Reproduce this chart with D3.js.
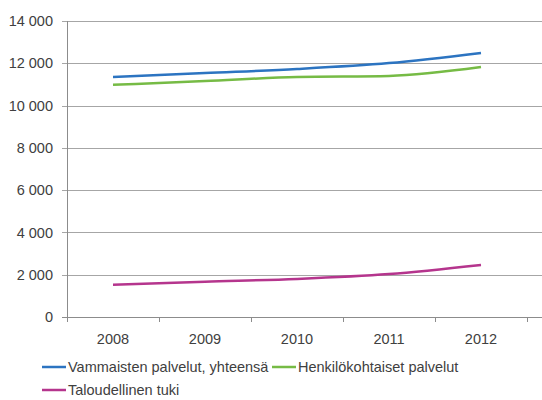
<!DOCTYPE html>
<html>
<head>
<meta charset="utf-8">
<script src="https://cdn.jsdelivr.net/npm/d3@7"></script>
<style>
  body { margin: 0; background: #fff; }
  text { font-family: "Liberation Sans", Arial, sans-serif; fill: #404040; }
</style>
</head>
<body>
<div id="chart"></div>
<script>
var years = ["2008", "2009", "2010", "2011", "2012"];
var vammaiset = [11350, 11540, 11730, 12010, 12490];
var henkilo = [10980, 11160, 11350, 11400, 11820];
var taloudellinen = [1530, 1670, 1800, 2030, 2460];
var yTicks = [0, 2000, 4000, 6000, 8000, 10000, 12000, 14000];

var series = [
    { name: "Vammaisten palvelut, yhteensä", values: vammaiset, color: "#2c74c1" },
    { name: "Henkilökohtaiset palvelut", values: henkilo, color: "#76bb45" },
    { name: "Taloudellinen tuki", values: taloudellinen, color: "#b5358d" }
];

var width = 542, height = 400;
var margin = { top: 21, left: 67, bottom: 83 };

var svg = d3.select("#chart")
    .append("svg")
    .attr("width", width)
    .attr("height", height);

var x = d3.scaleBand()
    .domain(years)
    .range([margin.left, margin.left + 460]);

var y = d3.scaleLinear()
    .domain([0, 14000])
    .range([height - margin.bottom, margin.top]);

var fmt = function (d) { return d3.format(",")(d).replace(/,/g, " "); };

// gridlines
svg.append("g")
    .selectAll("line")
    .data(yTicks)
    .enter()
    .append("line")
    .attr("x1", margin.left - 5)
    .attr("x2", width)
    .attr("y1", d => Math.round(y(d)) + 0.5)
    .attr("y2", d => Math.round(y(d)) + 0.5)
    .attr("stroke", d => d === 0 ? "#8c8c8c" : "#a6a6a6")
    .attr("stroke-width", 1);

// y axis line
svg.append("line")
    .attr("x1", margin.left + 0.5)
    .attr("x2", margin.left + 0.5)
    .attr("y1", y(14000))
    .attr("y2", y(0) + 5)
    .attr("stroke", "#8c8c8c");

// y labels
svg.append("g")
    .selectAll("text")
    .data(yTicks)
    .enter()
    .append("text")
    .attr("x", margin.left - 14)
    .attr("y", d => y(d))
    .attr("dy", "0.35em")
    .attr("text-anchor", "end")
    .style("font-size", "14.5px")
    .text(fmt);

// x ticks
svg.append("g")
    .selectAll("line")
    .data(years.slice(1).concat(["end"]))
    .enter()
    .append("line")
    .attr("x1", (d, i) => Math.round(x(years[0]) + x.bandwidth() * (i + 1)) + 0.5)
    .attr("x2", (d, i) => Math.round(x(years[0]) + x.bandwidth() * (i + 1)) + 0.5)
    .attr("y1", y(0))
    .attr("y2", y(0) + 5)
    .attr("stroke", "#8c8c8c");

svg.append("g")
    .selectAll("text")
    .data(years)
    .enter()
    .append("text")
    .attr("x", d => x(d) + x.bandwidth() / 2)
    .attr("y", y(0) + 27)
    .attr("text-anchor", "middle")
    .style("font-size", "14.5px")
    .text(d => d);

// lines
var line = d3.line()
    .x((d, i) => x(years[i]) + x.bandwidth() / 2)
    .y(d => y(d))
    .curve(d3.curveMonotoneX);

svg.append("g")
    .selectAll("path")
    .data(series)
    .enter()
    .append("path")
    .attr("fill", "none")
    .attr("stroke", d => d.color)
    .attr("stroke-width", 2.5)
    .attr("d", d => line(d.values));

// legend
var legendPos = [[42, 367], [272, 367], [42, 390]];
var legend = svg.append("g")
    .selectAll("g")
    .data(series)
    .enter()
    .append("g")
    .attr("transform", (d, i) => "translate(" + legendPos[i][0] + "," + legendPos[i][1] + ")");

legend.append("line")
    .attr("x1", 0)
    .attr("x2", 24)
    .attr("stroke", d => d.color)
    .attr("stroke-width", 2.5);

legend.append("text")
    .attr("x", 26)
    .attr("dy", "0.35em")
    .style("font-size", "14.5px")
    .text(d => d.name);
</script>
</body>
</html>
